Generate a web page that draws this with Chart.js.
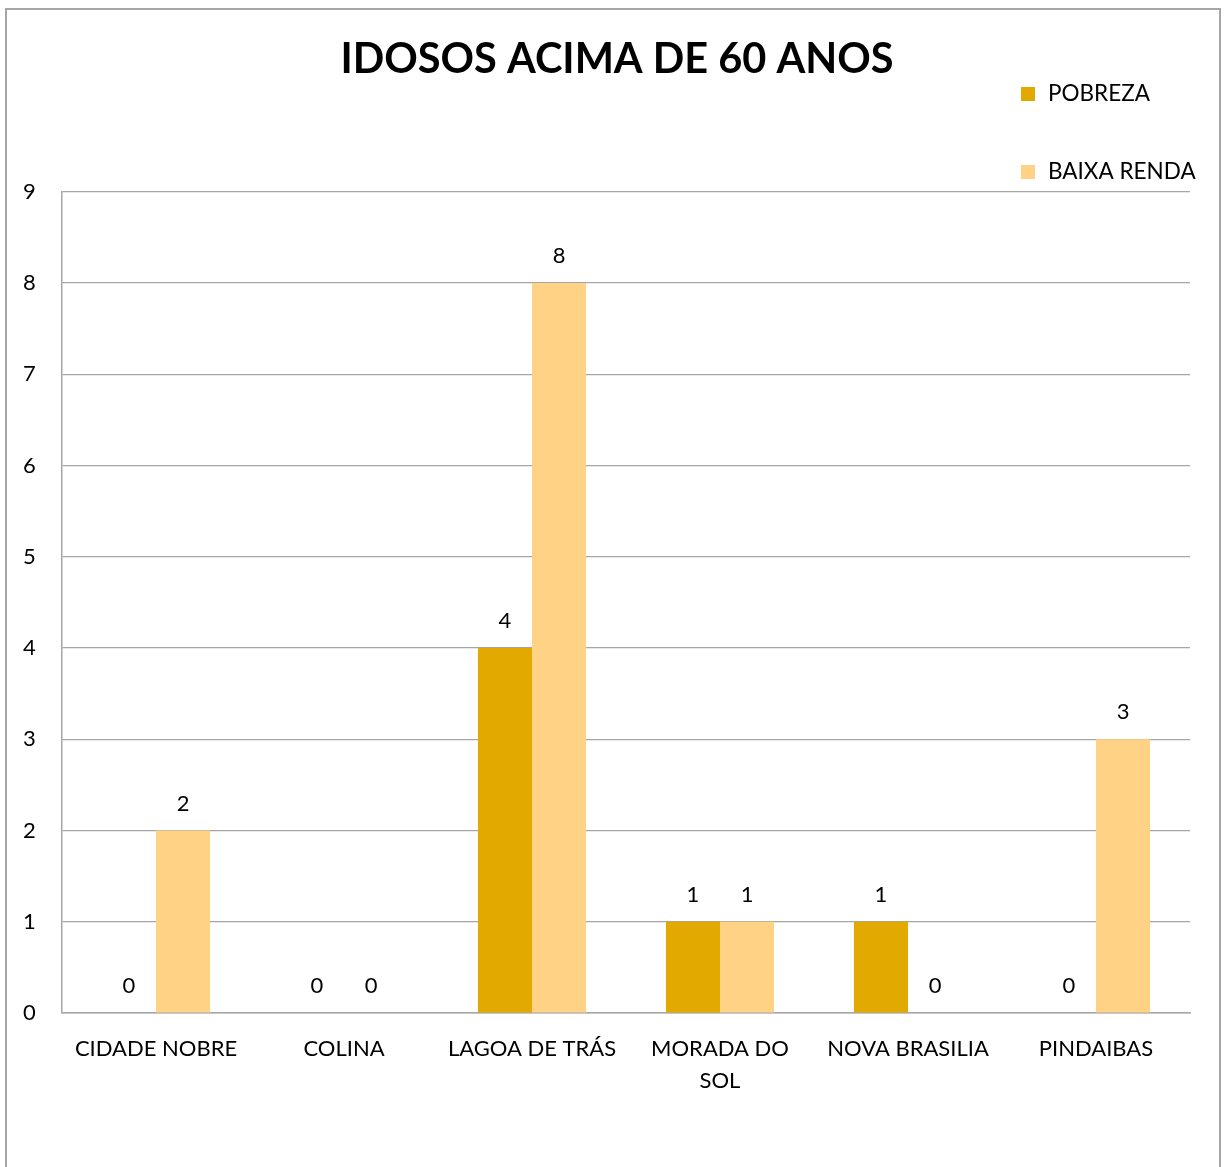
<!DOCTYPE html>
<html>
<head>
<meta charset="utf-8">
<script src="https://cdn.jsdelivr.net/npm/chart.js@4.4.1/dist/chart.umd.min.js"></script>
<style>
    html, body { margin: 0; padding: 0; background: #fff; }
    .frame {
        position: absolute;
        left: 5px; top: 8px;
        width: 1216px; height: 1170px;
        border: 2px solid #a6a6a6;
        box-sizing: border-box;
    }
    .wrap { position: absolute; left: 0; top: 0; width: 1228px; height: 1167px; }
</style>
</head>
<body>
<div class="frame"></div>
<div class="wrap"><canvas id="idososChart" width="1228" height="1167"></canvas></div>
<script>
// ===================== DATA =====================
const categories = ['CIDADE NOBRE', 'COLINA', 'LAGOA DE TRÁS', ['MORADA DO', 'SOL'], 'NOVA BRASILIA', 'PINDAIBAS'];
const pobreza = [0, 0, 4, 1, 1, 0];
const baixaRenda = [2, 0, 8, 1, 0, 3];
const yTicks = [0, 1, 2, 3, 4, 5, 6, 7, 8, 9];

const FONT = "Lato, 'Open Sans', sans-serif";

// value labels above each bar
const valueLabels = {
    id: 'valueLabels',
    afterDatasetsDraw(chart) {
        const ctx = chart.ctx;
        ctx.save();
        ctx.font = '22px ' + FONT;
        ctx.fillStyle = '#000';
        ctx.textAlign = 'center';
        ctx.textBaseline = 'middle';
        chart.data.datasets.forEach((ds, i) => {
            chart.getDatasetMeta(i).data.forEach((bar, j) => {
                ctx.fillText(String(ds.data[j]), bar.x, bar.y - 27);
            });
        });
        ctx.restore();
    }
};

// legend stacked at top right, like the original
const sideLegend = {
    id: 'sideLegend',
    afterDraw(chart) {
        const ctx = chart.ctx;
        const ys = [94, 172];
        ctx.save();
        ctx.font = '22.5px ' + FONT;
        ctx.textBaseline = 'middle';
        ctx.textAlign = 'left';
        chart.data.datasets.forEach((ds, i) => {
            ctx.fillStyle = ds.backgroundColor;
            ctx.fillRect(1021, ys[i] - 7, 14, 14);
            ctx.fillStyle = '#000';
            ctx.fillText(ds.label, 1048, ys[i]);
        });
        ctx.restore();
    }
};

new Chart(document.getElementById('idososChart'), {
    type: 'bar',
    data: {
        labels: categories,
        datasets: [
            {
                label: 'POBREZA',
                data: pobreza,
                backgroundColor: '#E2AA00',
                categoryPercentage: 0.575,
                barPercentage: 1.0
            },
            {
                label: 'BAIXA RENDA',
                data: baixaRenda,
                backgroundColor: '#FFD285',
                categoryPercentage: 0.575,
                barPercentage: 1.0
            }
        ]
    },
    options: {
        responsive: false,
        animation: false,
        devicePixelRatio: 1,
        layout: {
            padding: { left: 44, right: 38, top: 0, bottom: 0 }
        },
        plugins: {
            legend: { display: false },
            tooltip: { enabled: false },
            title: {
                display: true,
                text: 'IDOSOS ACIMA DE 60 ANOS',
                color: '#000',
                font: { family: FONT, size: 41.5, weight: 'bold', lineHeight: 1.2 },
                padding: { top: 35, bottom: 107 }
            }
        },
        scales: {
            x: {
                afterFit(scale) { scale.height = 154; },
                grid: { display: false, drawTicks: false },
                border: { display: true, color: '#a6a6a6', width: 1.5 },
                ticks: {
                    color: '#000',
                    maxRotation: 0,
                    autoSkip: false,
                    padding: 20,
                    font: { family: FONT, size: 22, lineHeight: 1.45 }
                }
            },
            y: {
                min: 0,
                max: 9,
                afterFit(scale) { scale.width = 18; },
                afterBuildTicks(scale) { scale.ticks = yTicks.map(v => ({ value: v })); },
                grid: { color: '#a6a6a6', lineWidth: 1.2, drawTicks: false },
                border: { display: true, color: '#a6a6a6', width: 1.5 },
                ticks: {
                    color: '#000',
                    // mirrored so labels are not clipped to the narrow axis box;
                    // negative padding pulls them back left of the axis line
                    mirror: true,
                    crossAlign: 'far',
                    padding: -39,
                    font: { family: FONT, size: 22 }
                }
            }
        }
    },
    plugins: [valueLabels, sideLegend]
});
</script>
</body>
</html>
